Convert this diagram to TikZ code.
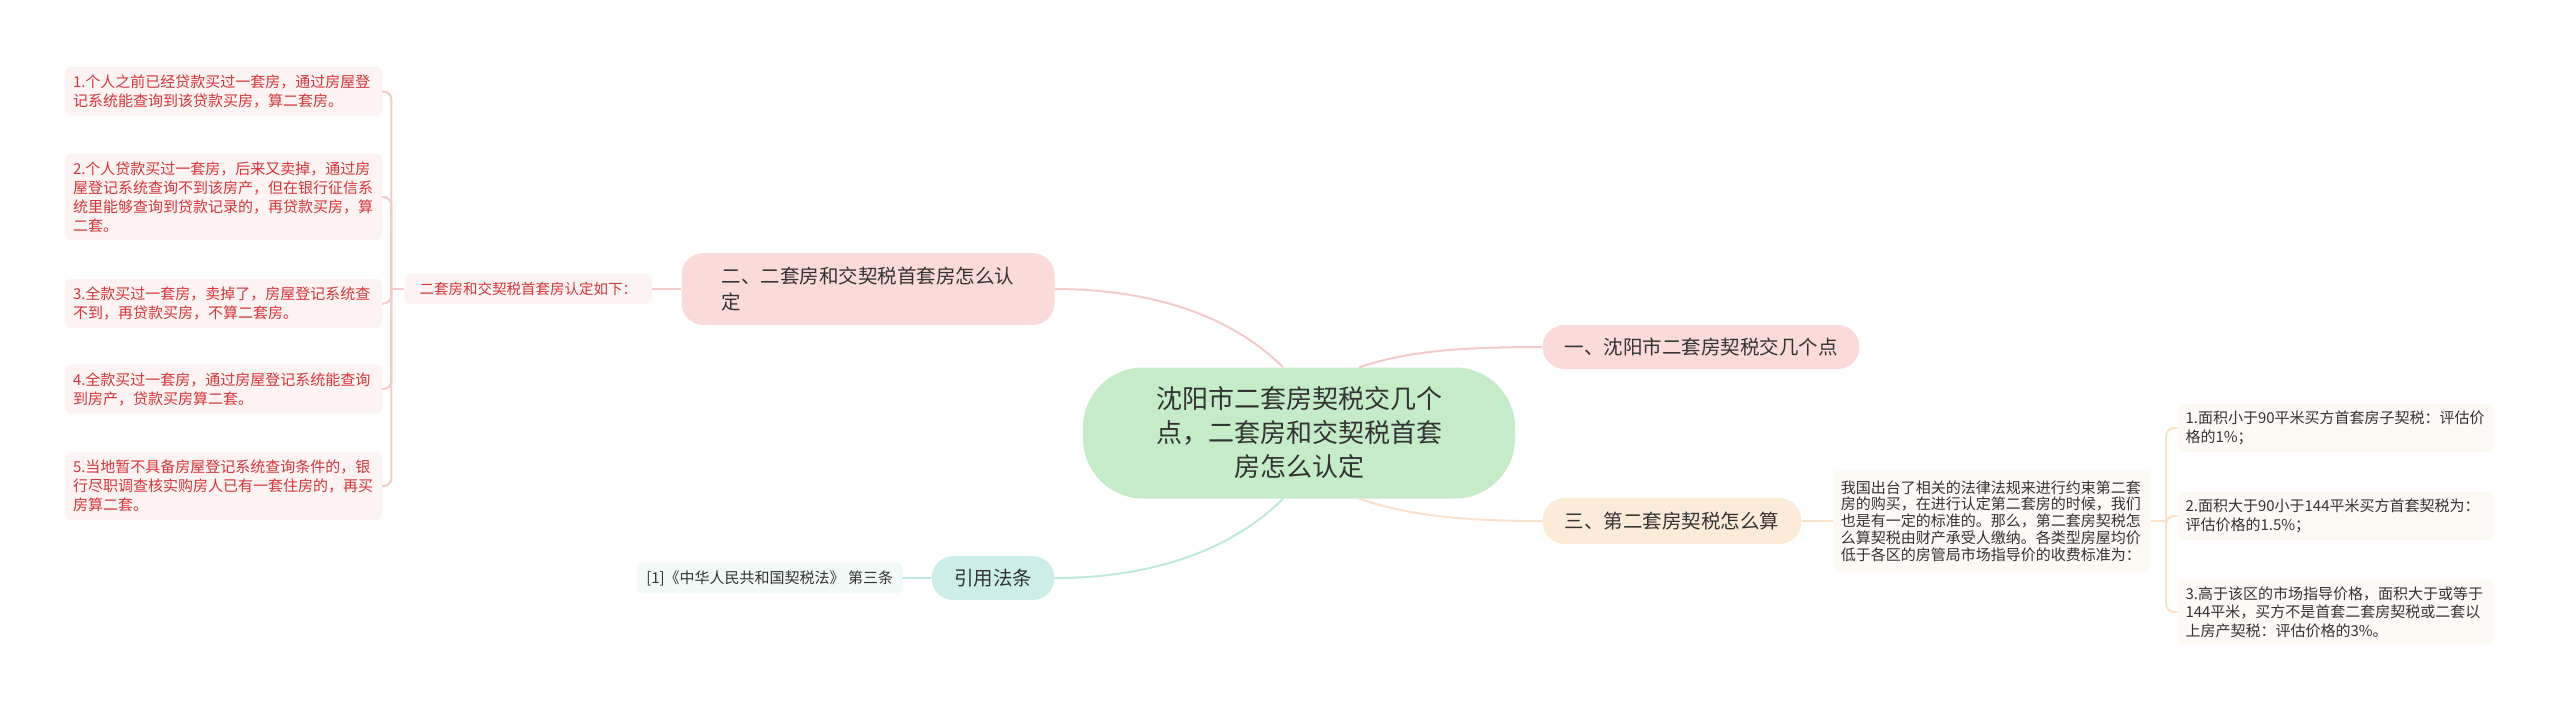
\documentclass[tikz,border=0pt]{standalone}
\usepackage{fontspec}
\setmainfont{Noto Sans CJK SC}
\usepackage{tikz}
\usetikzlibrary{positioning}
\definecolor{rootfill}{HTML}{C6EBC9}
\definecolor{pinkfill}{HTML}{FBDADA}
\definecolor{orangefill}{HTML}{FDEBDA}
\definecolor{cyanfill}{HTML}{CDEEE8}
\definecolor{pinkline}{HTML}{F4CACA}
\definecolor{orangeline}{HTML}{FAE1CC}
\definecolor{cyanline}{HTML}{BFE8E0}
\definecolor{redleaffill}{HTML}{FDF3F3}
\definecolor{warmleaffill}{HTML}{FDF9F4}
\definecolor{cyanleaffill}{HTML}{F2FAF8}
\definecolor{redtext}{HTML}{D2363A}
\definecolor{darktext}{HTML}{333333}
\tikzset{
    rootnode/.style={rectangle, fill=rootfill, rounded corners=60pt, minimum width=432pt, minimum height=131pt, align=center, text=darktext, font=\fontsize{26}{34}\selectfont},
    mainnode/.style={rectangle, rounded corners=22pt, minimum height=44pt, inner xsep=22pt, text=darktext, font=\fontsize{19.5}{26}\selectfont},
    redleaf/.style={rectangle, fill=redleaffill, rounded corners=6pt, text width=301pt, inner xsep=8pt, inner ysep=8pt, align=left, text=redtext, font=\fontsize{15}{19}\selectfont},
    warmleaf/.style={rectangle, fill=warmleaffill, rounded corners=6pt, text width=300pt, inner xsep=8pt, inner ysep=7pt, align=left, text=darktext, font=\fontsize{15}{18.5}\selectfont},
    link/.style={line width=2pt},
}

\begin{document}
\begin{tikzpicture}[x=1pt, y=-1pt]
    \useasboundingbox (0,0) rectangle (2560,713);
    \node[rootnode] (root) at (1299,433) {沈阳市二套房契税交几个\\点，二套房和交契税首套\\房怎么认定};
    \node[mainnode, fill=pinkfill, minimum width=317pt] (b1) at (1701,347) {一、沈阳市二套房契税交几个点};
    \node[mainnode, fill=pinkfill, text width=293pt, inner xsep=40pt, minimum height=72pt, align=left] (b2) at (868,289) {二、二套房和交契税首套房怎么认\\定};
    \node[mainnode, fill=orangefill, minimum width=259pt, minimum height=46pt] (b3) at (1672,521) {三、第二套房契税怎么算};
    \node[mainnode, fill=cyanfill, minimum width=123pt] (bref) at (993,578) {引用法条};

    \node[rectangle, fill=redleaffill, rounded corners=5pt, minimum height=30pt, inner xsep=15pt, text=redtext, font=\fontsize{14.5}{18}\selectfont, left=29pt of b2] (lab) {二套房和交契税首套房认定如下：};
    \node[redleaf] (i1) at (223.5,91.5) {1.个人之前已经贷款买过一套房，通过房屋登\\记系统能查询到该贷款买房，算二套房。};
    \node[redleaf] (i2) at (223.5,197) {2.个人贷款买过一套房，后来又卖掉，通过房\\屋登记系统查询不到该房产，但在银行征信系\\统里能够查询到贷款记录的，再贷款买房，算\\二套。};
    \node[redleaf] (i3) at (223.5,303.5) {3.全款买过一套房，卖掉了，房屋登记系统查\\不到，再贷款买房，不算二套房。};
    \node[redleaf] (i4) at (223.5,389) {4.全款买过一套房，通过房屋登记系统能查询\\到房产，贷款买房算二套。};
    \node[redleaf] (i5) at (223.5,486) {5.当地暂不具备房屋登记系统查询条件的，银\\行尽职调查核实购房人已有一套住房的，再买\\房算二套。};

    \node[warmleaf, text width=302pt, inner ysep=10pt, font=\fontsize{15}{16.8}\selectfont, right=31pt of b3] (para) {我国出台了相关的法律法规来进行约束第二套\\房的购买，在进行认定第二套房的时候，我们\\也是有一定的标准的。那么，第二套房契税怎\\么算契税由财产承受人缴纳。各类型房屋均价\\低于各区的房管局市场指导价的收费标准为：};
    \node[warmleaf] (r1) at (2335.5,428) {1.面积小于90平米买方首套房子契税：评估价\\格的1\%；};
    \node[warmleaf] (r2) at (2335.5,516) {2.面积大于90小于144平米买方首套契税为：\\评估价格的1.5\%；};
    \node[warmleaf] (r3) at (2335.5,612) {3.高于该区的市场指导价格，面积大于或等于\\144平米，买方不是首套二套房契税或二套以\\上房产契税：评估价格的3\%。};

    \node[rectangle, fill=cyanleaffill, rounded corners=5pt, minimum height=31pt, inner xsep=9pt, text=darktext, font=\fontsize{15}{18}\selectfont, left=29pt of bref] (law) {[1]《中华人民共和国契税法》 第三条};

    \draw[link, pinkline] ([xshift=-16pt]root.north) .. controls +(-50,-50) and +(100,0) .. (b2.east);
    \draw[link, pinkline] ([xshift=60pt]root.north) .. controls +(45,-15) and +(-90,0) .. (b1.west);
    \draw[link, orangeline] ([xshift=60pt]root.south) .. controls +(45,15) and +(-90,0) .. (b3.west);
    \draw[link, cyanline] ([xshift=-16pt]root.south) .. controls +(-50,50) and +(100,0) .. (bref.east);

    \draw[link, pinkline] (b2.west) -- (lab.east);
    \draw[link, pinkline] (lab.west) -- ++(-13,0) coordinate (lj);
    \foreach \i in {i1,i2,i3,i4,i5}
        \draw[link, pinkline, rounded corners=8pt] (lj) |- (\i.east);

    \draw[link, orangeline] (b3.east) -- (para.west);
    \draw[link, orangeline] (para.east) -- ++(15,0) coordinate (rj);
    \foreach \r in {r1,r2,r3}
        \draw[link, orangeline, rounded corners=8pt] (rj) |- (\r.west);

    \draw[link, cyanline] (bref.west) -- (law.east);
\end{tikzpicture}
\end{document}
